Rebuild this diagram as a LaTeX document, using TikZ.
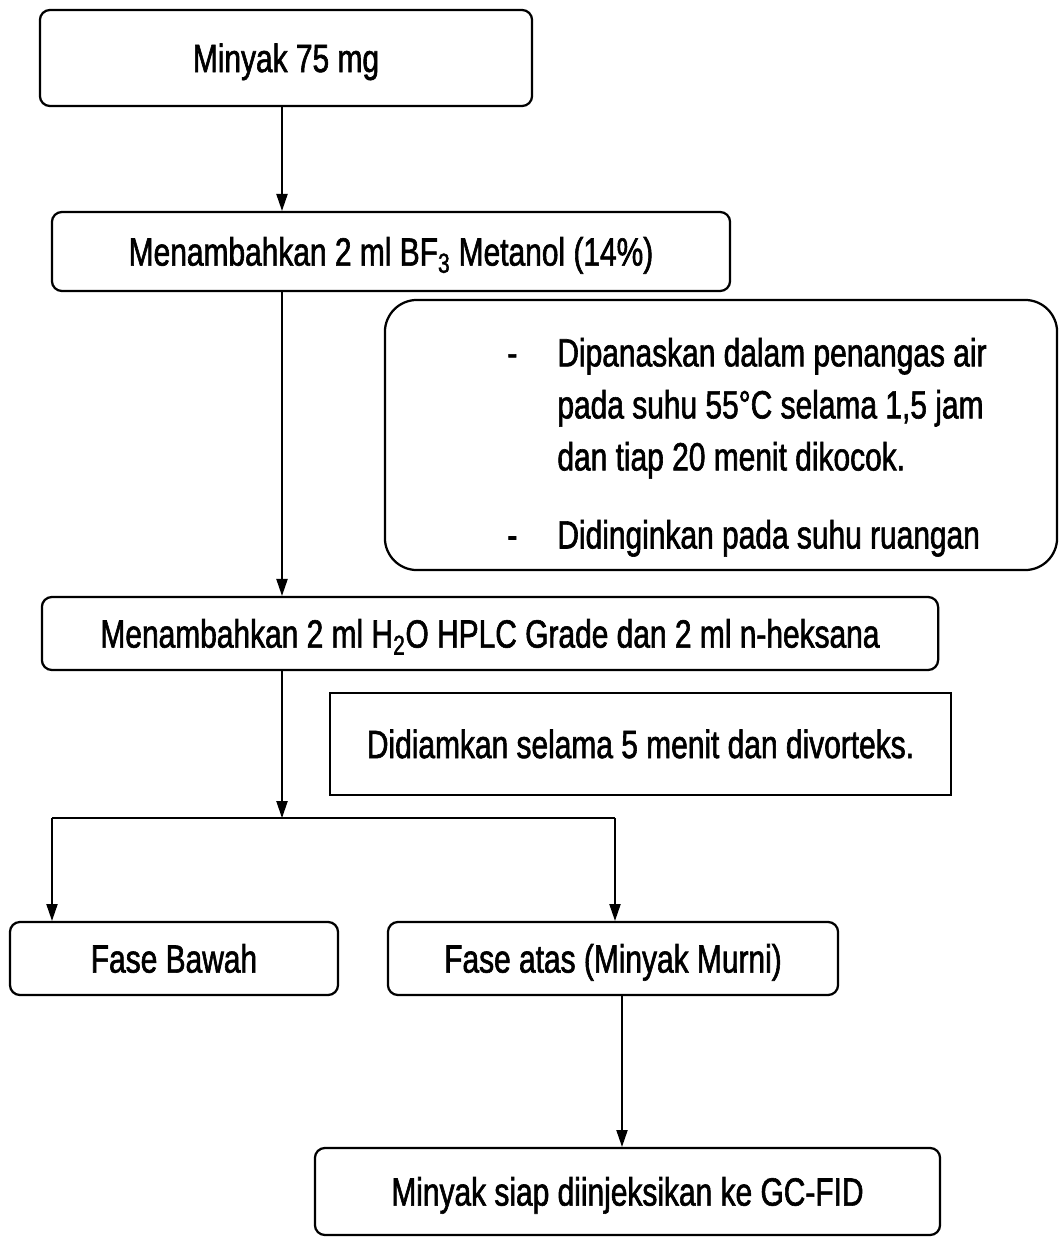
\documentclass[tikz,border=0pt]{standalone}
\usepackage{fontspec}
\setmainfont[FakeStretch=0.76,FakeBold=1.5]{Liberation Sans}
\usetikzlibrary{arrows.meta}

\begin{document}
\begin{tikzpicture}[x=0.025cm,y=-0.025cm,
  stepbox/.style={draw, line width=1.6pt, rounded corners=0.25cm, align=center,
    inner sep=0pt, text height=24pt, text depth=4pt, font=\fontsize{28}{34}\selectfont},
  notebox/.style={draw, line width=1.6pt, rounded corners=0.8cm, inner sep=0pt,
    font=\fontsize{28}{37}\selectfont},
  plainbox/.style={draw, line width=1.6pt, inner sep=0pt, text height=24pt, text depth=4pt,
    font=\fontsize{28}{34}\selectfont},
  flow/.style={-{Triangle[length=12pt,width=8pt]}, line width=0.9pt}]
\useasboundingbox (0,0) rectangle (1059,1237);
\node [stepbox, minimum width=12.3cm, minimum height=2.4cm] (oil) at (286,58) {Minyak 75 mg};
\node [stepbox, minimum width=16.95cm, minimum height=1.975cm] (bf) at (391,251.5) {Menambahkan 2 ml BF\textsubscript{3} Metanol (14\%)};
\node [notebox, minimum width=16.8cm, minimum height=6.75cm] (heat) at (721,435)
  {\raisebox{-0.3cm}[\height][\depth]{\hspace{1.3cm}\begin{tabular}{@{}p{1.25cm}@{}l@{}}
   - & Dipanaskan dalam penangas air\\
     & pada suhu 55°C selama 1,5 jam\\
     & dan tiap 20 menit dikocok.\\[0.65cm]
   - & Didinginkan pada suhu ruangan
  \end{tabular}}};
\node [stepbox, minimum width=22.4cm, minimum height=1.825cm] (hex) at (490,633.5) {Menambahkan 2 ml H\textsubscript{2}O HPLC Grade dan 2 ml n-heksana};
\node [plainbox, minimum width=15.525cm, minimum height=2.55cm] (vort) at (640.5,744) {Didiamkan selama 5 menit dan divorteks.};
\node [stepbox, minimum width=8.2cm, minimum height=1.825cm] (low) at (174,958.5) {Fase Bawah};
\node [stepbox, minimum width=11.25cm, minimum height=1.825cm] (up) at (613,958.5) {Fase atas (Minyak Murni)};
\node [stepbox, minimum width=15.625cm, minimum height=2.175cm] (gc) at (627.5,1191.5) {Minyak siap diinjeksikan ke GC-FID};
% connectors
\coordinate (spine) at (282,0);
\coordinate (split) at (282,818);
\coordinate (lft) at (52,818);
\coordinate (rgt) at (615,818);
\coordinate (drop) at (622,0);
\draw [flow] (oil.south -| spine) -- (bf.north -| spine);
\draw [flow] (bf.south -| spine) -- (hex.north -| spine);
\draw [flow] (hex.south -| spine) -- (split);
\draw [line width=0.9pt] (lft) -- (rgt);
\draw [flow] (lft) -- (low.north -| lft);
\draw [flow] (rgt) -- (up.north -| rgt);
\draw [flow] (up.south -| drop) -- (gc.north -| drop);
\end{tikzpicture}
\end{document}
